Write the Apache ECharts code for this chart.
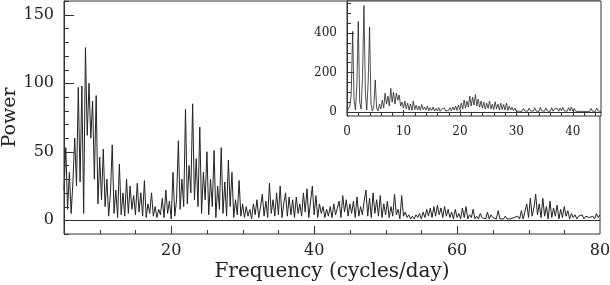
<!DOCTYPE html>
<html><head><meta charset="utf-8">
<script src="https://cdn.jsdelivr.net/npm/echarts@6/dist/echarts.min.js"></script>
<style>html,body{margin:0;padding:0;background:#fff}#c{width:610px;height:285px}</style>
</head><body><div id="c"></div>
<script>
// Main periodogram: frequency grid start/step (cycles/day), power values
var mainStart = 5, mainStep = 0.25;
var mainPower = [
22,53,8,35,5,28,60,25,97,28,98,5,126,62,100,60,87,30,91,12,
46,15,52,10,30,3,20,55,5,22,2,41,4,20,3,30,5,25,8,18,
4,27,6,20,3,29,2,12,5,20,3,10,2,8,4,16,2,22,5,14,
1,35,3,15,58,8,30,10,81,12,40,20,85,15,45,10,68,5,35,15,
50,4,30,10,51,2,25,8,53,5,28,3,44,10,35,2,15,4,29,3,
12,2,10,3,8,1,12,4,15,2,10,19,3,14,2,27,5,15,3,20,
4,25,2,12,20,3,17,4,15,2,17,5,12,3,20,6,23,2,14,25,
4,18,2,12,5,10,2,8,3,10,2,12,4,9,14,2,18,6,15,3,
12,5,14,2,17,3,10,4,14,22,3,16,2,20,5,15,3,18,2,12,
4,14,2,10,3,19,4,8,1,18,3,6,2,4,1,3,1,4,2,5,
1,6,2,8,3,9,2,10,3,11,4,9,2,10,3,8,2,6,1,8,
2,5,1,9,2,10,1,4,2,8,1,3,1,5,2,3,1,6,1,4,
2,3,1,7,1,2,1,3,1,2,1,1,2,1,3,1,7,1,2,12,
2,16,3,9,19,4,12,2,16,3,10,1,14,2,9,3,11,1,8,2,
10,3,7,1,5,2,4,1,3,2,4,1,3,2,2,1,3,1,5,2,
4
];
// Inset periodogram (0-45 cycles/day)
var insetStart = 0, insetStep = 0.25;
var insetPower = [
5,2,30,90,407,60,10,140,457,50,15,180,537,100,10,150,429,40,5,30,
162,20,5,40,15,60,20,95,40,80,30,120,50,100,40,95,60,86,30,50,
20,55,15,45,10,40,8,55,12,35,10,30,8,38,12,25,10,30,6,22,
8,25,5,18,6,22,4,15,6,20,5,14,8,22,6,25,10,30,8,35,
12,45,15,60,20,55,25,80,30,75,35,88,30,65,25,55,20,50,15,45,
18,55,15,40,12,52,15,40,10,45,12,38,10,45,8,30,10,25,6,20,
5,15,4,12,3,18,5,12,4,20,6,14,4,22,5,15,3,24,6,14,
4,20,5,12,3,22,4,15,5,18,4,20,6,24,5,15,4,22,6,25,
5,18,4,14,3,12,4,10,3,8,2,12,3,18,4,10,3,20,5,15,
4
];
// Tick values
var mainXLabels = [20, 40, 60, 80];
var mainXMajor = [20, 40, 60];
var mainXMinor = [10, 15, 25, 30, 35, 45, 50, 55, 65, 70, 75];
var mainYLabels = [0, 50, 100, 150];
var mainYMinor = [-10, 10, 20, 30, 40, 60, 70, 80, 90, 110, 120, 130, 140, 160];
var insetXLabels = [0, 10, 20, 30, 40];
var insetXMajor = [10, 20, 30, 40];
var insetXMinor = [2, 4, 6, 8, 12, 14, 16, 18, 22, 24, 26, 28, 32, 34, 36, 38, 42, 44];
var insetYLabels = [0, 200, 400];
var insetYMinor = [50, 100, 150, 250, 300, 350, 450, 500, 550];

function pairs(start, step, vals) {
  var out = [];
  for (var i = 0; i < vals.length; i++) out.push([start + i * step, vals[i]]);
  return out;
}

var FONT = 'DejaVu Serif';
var AX = '#333';
var chart = echarts.init(document.getElementById('c'), null, {renderer: 'canvas'});

function ax(grid, min, max, pos, labels, fs, margin, z, extra) {
  var a = {
    type: 'value', gridIndex: grid, min: min, max: max, position: pos, z: z,
    axisLine: {show: true, lineStyle: {color: AX, width: 1}},
    axisTick: {show: false},
    axisLabel: {show: true, customValues: labels, fontFamily: FONT, fontSize: fs, color: '#222', margin: margin},
    splitLine: {show: false}
  };
  if (extra) for (var k in extra) a[k] = extra[k];
  return a;
}

chart.setOption({
  animation: false,
  backgroundColor: '#fff',
  grid: [
    {left: 64, right: 10, top: 1, bottom: 51, outerBoundsMode: 'none', containLabel: false,
     show: true, borderColor: AX, borderWidth: 1, backgroundColor: 'transparent', z: 0},
    {left: 347, right: 9, top: 1, height: 115, outerBoundsMode: 'none', containLabel: false,
     show: true, borderColor: AX, borderWidth: 1, backgroundColor: '#fff', z: 10}
  ],
  xAxis: [
    ax(0, 5, 80, 'bottom', mainXLabels, 16, 9, 3, {
      name: 'Frequency (cycles/day)', nameLocation: 'middle', nameGap: 28, nameMoveOverlap: false,
      nameTextStyle: {fontFamily: FONT, fontSize: 20, color: '#222'}
    }),
    ax(1, 0, 45, 'bottom', insetXLabels, 12, 10, 12)
  ],
  yAxis: [
    ax(0, -10, 160, 'left', mainYLabels, 16, 10, 3, {
      name: 'Power', nameLocation: 'middle', nameGap: 44, nameRotate: 90, nameMoveOverlap: false,
      nameTextStyle: {fontFamily: FONT, fontSize: 19, color: '#222'}
    }),
    ax(1, -20, 560, 'left', insetYLabels, 12, 10, 12)
  ],
  series: [
    {type: 'line', xAxisIndex: 0, yAxisIndex: 0, data: pairs(mainStart, mainStep, mainPower),
     showSymbol: false, symbol: 'none', clip: true, z: 2,
     lineStyle: {color: '#222', width: 1}},
    {type: 'line', xAxisIndex: 1, yAxisIndex: 1, data: pairs(insetStart, insetStep, insetPower),
     showSymbol: false, symbol: 'none', clip: true, z: 11,
     lineStyle: {color: '#222', width: 0.8}}
  ]
});

// Inward tick marks placed through the axes' own scales
function ticks(xi, yi, xMin, yMin, xVals, yVals, xLen, yLen) {
  var els = [];
  var yBottom = chart.convertToPixel({yAxisIndex: yi}, yMin);
  var xLeft = chart.convertToPixel({xAxisIndex: xi}, xMin);
  xVals.forEach(function (v) {
    var px = Math.round(chart.convertToPixel({xAxisIndex: xi}, v)) + 0.5;
    els.push({type: 'line', z: 100, shape: {x1: px, y1: yBottom, x2: px, y2: yBottom - xLen},
      style: {stroke: AX, lineWidth: 1}});
  });
  yVals.forEach(function (v) {
    var py = Math.round(chart.convertToPixel({yAxisIndex: yi}, v)) + 0.5;
    els.push({type: 'line', z: 100, shape: {x1: xLeft, y1: py, x2: xLeft + yLen, y2: py},
      style: {stroke: AX, lineWidth: 1}});
  });
  return els;
}
var g = [];
g = g.concat(ticks(0, 0, 5, -10, mainXMajor, mainYLabels, 8, 10));
g = g.concat(ticks(0, 0, 5, -10, mainXMinor, mainYMinor, 4, 5));
g = g.concat(ticks(1, 1, 0, -20, insetXMajor, insetYLabels, 6, 7));
g = g.concat(ticks(1, 1, 0, -20, insetXMinor, insetYMinor, 3, 4));
chart.setOption({graphic: {z: 100, elements: g}});
</script></body></html>
